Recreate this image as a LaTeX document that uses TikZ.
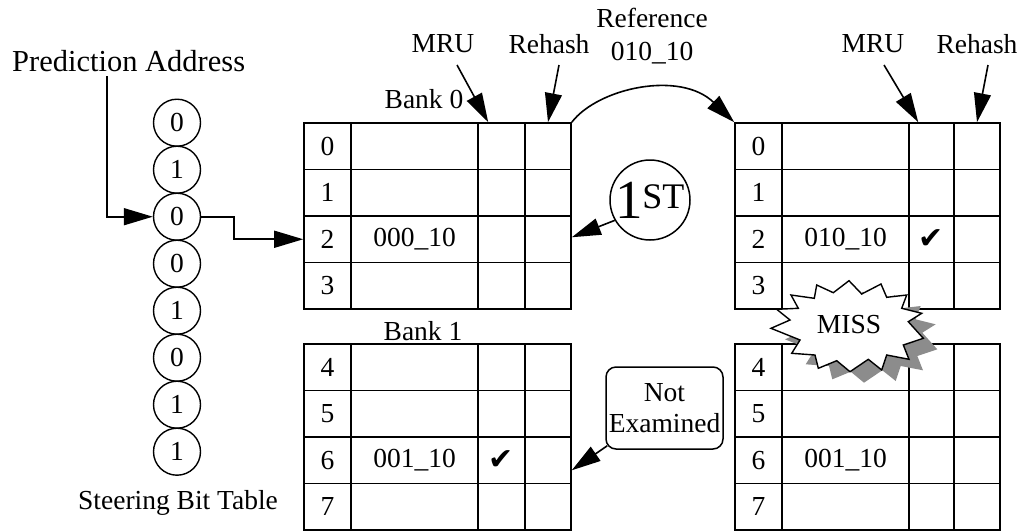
\documentclass[tikz,border=0pt]{standalone}
\usepackage{fontspec}
\setmainfont{Liberation Serif}
\newfontfamily\dejavu{DejaVu Sans}
\usetikzlibrary{arrows.meta,shapes.geometric,calc}
\newcommand\fsz{\fontsize{27.5}{31}\selectfont}
\definecolor{shadowgray}{RGB}{140,140,140}
\begin{document}
\begin{tikzpicture}[x=1pt,y=-1pt,
  lbl/.style={font=\fsz, inner sep=0pt},
  cell/.style={draw, line width=1.6pt, minimum width=#1, minimum height=46.5pt, inner sep=0pt, font=\fsz},
  bit/.style={draw, circle, line width=1.4pt, minimum size=47pt, inner sep=0pt, font=\fsz},
  arr/.style={line width=1.6pt, -{Triangle[length=29pt,width=17pt]}},
  chk/.style={font=\dejavu\fontsize{30}{30}\selectfont, inner sep=0pt}
]
\useasboundingbox (0,0) rectangle (1027,531);

% tables
\foreach \r/\y in {0/146.25,1/192.75,2/239.25,3/285.75,4/367.25,5/413.75,6/460.25,7/506.75}{
  \node[cell=47pt]  (Li\r) at (327.5,\y) {\r};
  \node[cell=127pt] (Ld\r) at (414.5,\y) {};
  \node[cell=47pt]  (Lm\r) at (501.5,\y) {};
  \node[cell=46pt]  (Lr\r) at (548,\y) {};
  \node[cell=47pt]  (Ri\r) at (758.5,\y) {\r};
  \node[cell=127pt] (Rd\r) at (845.5,\y) {};
  \node[cell=45pt]  (Rm\r) at (931.5,\y) {};
  \node[cell=46pt]  (Rr\r) at (977,\y) {};
}
\node[lbl] (tLd2) at (Ld2) {000\_10};
\node[lbl] (tLd6) at (Ld6) {001\_10};
\node[chk] (cLm6) at (Lm6) {✔};
\node[lbl] (tRd2) at (Rd2) {010\_10};
\node[chk] (cRm2) at (Rm2) {✔};
\node[lbl] (tRd6) at (Rd6) {001\_10};

% steering bits
\foreach \k/\v in {0/0,1/1,2/0,3/0,4/1,5/0,6/1,7/1}
  \node[bit] (b\k) at (177,{122.7+47*\k}) {\v};
\node[lbl, anchor=base] (sbt) at (178,509) {Steering Bit Table};

% labels
\node[font=\fontsize{30.5}{34}\selectfont, inner sep=0pt, anchor=base west] (pa) at (12,71) {Prediction Address};
\node[lbl] (bank0) at (424,99) {Bank 0};
\node[lbl] (bank1) at (423,331) {Bank 1};
\node[lbl] (mruL) at (443,44) {MRU};
\node[lbl] (rehL) at (549,44) {Rehash};
\node[lbl] (mruR) at (873,44) {MRU};
\node[lbl] (rehR) at (977,44) {Rehash};
\node[font=\fontsize{27.5}{32.5}\selectfont, inner sep=0pt, align=center] (ref) at (652,36) {Reference\\010\_10};

% connectors
\coordinate (pastart) at (107,76);
\draw[arr] (pastart) |- (b2.west);
\draw[arr] (b2.east) -- ++(33,0) |- (Li2.west);
\coordinate (mruLs) at (457,65);
\coordinate (rehLs) at (559,65);
\coordinate (mruRs) at (884,65);
\coordinate (rehRs) at (988,65);
\draw[arr] (mruLs) -- ([xshift=11pt]Lm0.north west);
\draw[arr] (rehLs) -- (Lr0.north);
\draw[arr] (mruRs) -- ([xshift=10pt]Rm0.north west);
\draw[arr] (rehRs) -- (Rr0.north);
\draw[arr] (Lr0.north east) .. controls (598,88) and (680,70) .. (Ri0.north west);

% 1ST
\node[draw, circle, line width=1.5pt, minimum size=80pt, inner sep=0pt] (first) at (650,200)
  {\fontsize{55}{55}\selectfont 1\kern-1pt\fontsize{36}{36}\selectfont\raisebox{10pt}{ST}};
\draw[arr] (first.210) -- ([yshift=2pt]Lr2.east);

% Not Examined
\node[draw, rounded corners=10pt, line width=1.5pt, minimum width=117pt, minimum height=82pt,
      inner sep=0pt, align=center, font=\fontsize{27.5}{31.5}\selectfont] (ne) at (664.5,408) {Not\\Examined};
\draw[arr] ([xshift=2pt,yshift=4pt]ne.south west) -- ([yshift=-10pt]Lr6.east);

% MISS starburst
\def\starpts{(771,328.3) (790,320) (776.7,309.3) (798.3,308.3) (791,295) (814.3,298.3) (816.7,285) (833.3,292.7) (849,280.7) (861.7,294) (881,284) (886.7,297.3) (906.7,295) (901.7,308.3) (921.7,313.3) (908.3,321.7) (923.3,338.3) (903.3,345) (909,359.3) (886.7,355) (881.7,370) (868.3,359.3) (850,371.7) (836.7,360.7) (818.3,368.3) (815,355) (791.7,353.3) (800,340)}
\fill[shadowgray, shift={(14,11)}] plot coordinates \starpts -- cycle;
\filldraw[fill=white, draw=black, line width=1.4pt, line join=miter] plot coordinates \starpts -- cycle;
\node[lbl] (miss) at (849,325) {MISS};
\end{tikzpicture}
\end{document}
